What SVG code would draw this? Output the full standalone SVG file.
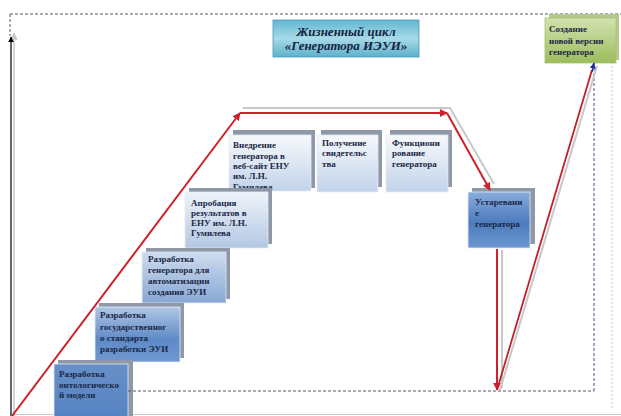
<svg xmlns="http://www.w3.org/2000/svg" width="621" height="416" viewBox="0 0 621 416">
<defs>
<linearGradient id="g1" x1="0" y1="0" x2="0" y2="1"><stop offset="0" stop-color="#6890c8"/><stop offset="1" stop-color="#5482c2"/></linearGradient>
<linearGradient id="g2" x1="0" y1="0" x2="0" y2="1"><stop offset="0" stop-color="#b0c6e4"/><stop offset="0.6" stop-color="#5e8ac7"/><stop offset="1" stop-color="#7199d0"/></linearGradient>
<linearGradient id="g3" x1="0" y1="0" x2="0" y2="1"><stop offset="0" stop-color="#cfdcee"/><stop offset="1" stop-color="#87a7d4"/></linearGradient>
<linearGradient id="g4" x1="0" y1="0" x2="0" y2="1"><stop offset="0" stop-color="#eef3f9"/><stop offset="1" stop-color="#b3c7e3"/></linearGradient>
<linearGradient id="g5" x1="0" y1="0" x2="0" y2="1"><stop offset="0" stop-color="#f7f9fc"/><stop offset="1" stop-color="#c2d3ea"/></linearGradient>
<linearGradient id="g8" x1="0" y1="0" x2="0" y2="1"><stop offset="0" stop-color="#88acdc"/><stop offset="0.55" stop-color="#4c7bbe"/><stop offset="1" stop-color="#6d97d0"/></linearGradient>
<linearGradient id="gt" x1="0" y1="0" x2="0" y2="1"><stop offset="0" stop-color="#62b6cf"/><stop offset="0.5" stop-color="#a6dae8"/><stop offset="1" stop-color="#5eb0ca"/></linearGradient>
<linearGradient id="gg" x1="0" y1="0" x2="0" y2="1"><stop offset="0" stop-color="#d3e2b0"/><stop offset="1" stop-color="#9cbc5c"/></linearGradient>
<marker id="ar" viewBox="0 0 10 10" refX="9" refY="5" markerWidth="4" markerHeight="4" orient="auto"><path d="M0,0 L10,5 L0,10 z" fill="#d0202a"/></marker>
<marker id="ab" viewBox="0 0 10 10" refX="9" refY="5" markerWidth="4" markerHeight="4" orient="auto"><path d="M0,0 L10,5 L0,10 z" fill="#2a2aa0"/></marker>
<marker id="ak" viewBox="0 0 10 10" refX="9" refY="5" markerWidth="5" markerHeight="5" orient="auto"><path d="M0,0 L10,5 L0,10 z" fill="#000"/></marker>
<marker id="ag" viewBox="0 0 10 10" refX="9" refY="5" markerWidth="5" markerHeight="5" orient="auto"><path d="M0,0 L10,5 L0,10 z" fill="#c8c8c8"/></marker>
</defs>
<style>
.t{font-family:"Liberation Serif","Times New Roman",serif;font-weight:bold;font-size:9px;fill:#1b2846}
.tt{font-family:"Liberation Serif","Times New Roman",serif;font-weight:bold;font-style:italic;font-size:13px;fill:#17233f;text-anchor:middle}
.sh{fill:#8e98a7}
.bx{stroke:#e4ebf5;stroke-width:0.8}
.red{stroke:#d0202a;stroke-width:2;fill:none}
.gray{stroke:#c8c8c8;stroke-width:2;fill:none}
.dash{stroke:#55586a;stroke-width:1;stroke-dasharray:3 2;fill:none}
</style>
<rect width="621" height="416" fill="#ffffff"/>
<g id="frame">
<line class="dash" x1="10" y1="14" x2="621" y2="14"/>
<line class="dash" x1="10" y1="14" x2="10" y2="36"/>
<line x1="14" y1="416" x2="14" y2="33" stroke="#c8c8c8" stroke-width="1.5" marker-end="url(#ag)"/>
<line x1="11" y1="416" x2="11" y2="37" stroke="#000" stroke-width="1.2" marker-end="url(#ak)"/>
<line x1="612" y1="22" x2="612" y2="410" stroke="#c4c6d4" stroke-width="1" stroke-dasharray="2 2"/>
<line x1="12" y1="414.5" x2="621" y2="414.5" stroke="#c8c8c8" stroke-width="1"/>
</g>
<g id="title">
<rect x="273" y="20" width="146" height="37" fill="url(#gt)" stroke="#4a9ab5" stroke-width="0.8"/>
<text class="tt" x="346" y="36">Жизненный цикл</text>
<text class="tt" x="346" y="50">«Генератора ИЭУИ»</text>
</g>
<g id="n5">
<rect class="sh" x="233" y="130" width="82" height="58"/>
<rect class="bx" x="229" y="135" width="82" height="56" fill="url(#g5)"/>
<text class="t"><tspan x="233" y="148">Внедрение</tspan><tspan x="233" y="159">генератора в</tspan><tspan x="233" y="169">веб-сайт  ЕНУ</tspan><tspan x="233" y="179">им. Л.Н.</tspan><tspan x="233" y="190">Гумилева</tspan></text>
</g>
<g id="n6">
<rect class="sh" x="321" y="130" width="61" height="57"/>
<rect class="bx" x="317" y="135" width="61" height="57" fill="url(#g5)"/>
<text class="t"><tspan x="322" y="146">Получение</tspan><tspan x="322" y="156">свидетельс</tspan><tspan x="322" y="167">тва</tspan></text>
</g>
<g id="n7">
<rect class="sh" x="390" y="130" width="62" height="57"/>
<rect class="bx" x="386" y="135" width="62" height="57" fill="url(#g5)"/>
<text class="t"><tspan x="392" y="146">Функциони</tspan><tspan x="392" y="156">рование</tspan><tspan x="392" y="167">генератора</tspan></text>
</g>
<g id="n4">
<rect class="sh" x="189" y="188" width="83" height="56"/>
<rect class="bx" x="185" y="192" width="83" height="56" fill="url(#g4)"/>
<text class="t"><tspan x="191" y="206">Апробация</tspan><tspan x="191" y="216">результатов в</tspan><tspan x="191" y="226">ЕНУ им. Л.Н.</tspan><tspan x="191" y="236">Гумилева</tspan></text>
</g>
<g id="n3">
<rect class="sh" x="146" y="248" width="84" height="51"/>
<rect class="bx" x="142" y="252" width="84" height="51" fill="url(#g3)"/>
<text class="t"><tspan x="148" y="262">Разработка</tspan><tspan x="148" y="273">генератора для</tspan><tspan x="148" y="284">автоматизации</tspan><tspan x="148" y="295">создания ЭУИ</tspan></text>
</g>
<g id="n2">
<rect class="sh" x="99" y="303" width="85" height="55"/>
<rect class="bx" x="95" y="307" width="85" height="55" fill="url(#g2)"/>
<text class="t"><tspan x="100" y="318">Разработка</tspan><tspan x="100" y="330">государственног</tspan><tspan x="100" y="341">о стандарта</tspan><tspan x="100" y="352">разработки ЭУИ</tspan></text>
</g>
<g id="n1">
<rect class="sh" x="58" y="360" width="75" height="60"/>
<rect class="bx" x="54" y="364" width="74" height="56" fill="url(#g1)"/>
<text class="t"><tspan x="59" y="377">Разработка</tspan><tspan x="59" y="388">онтологическо</tspan><tspan x="59" y="398">й модели</tspan></text>
</g>
<g id="n8">
<rect class="sh" x="472" y="188" width="63" height="56"/>
<rect class="bx" x="468" y="192" width="62" height="56" fill="url(#g8)"/>
<text class="t"><tspan x="475" y="205">Устаревани</tspan><tspan x="475" y="216">е</tspan><tspan x="475" y="227">генератора</tspan></text>
</g>
<g id="n9">
<rect x="549" y="14" width="70" height="46" fill="#b4c98a"/>
<rect x="545" y="18" width="71" height="45" fill="url(#gg)" stroke="#a9c26e" stroke-width="0.8"/>
<text class="t"><tspan x="549" y="32">Создание</tspan><tspan x="549" y="44">новой версии</tspan><tspan x="549" y="55">генератора</tspan></text>
</g>
<g id="connectors">
<line class="dash" x1="128" y1="391" x2="594" y2="391"/>
<line x1="594" y1="68" x2="594" y2="391" stroke="#4d4d8e" stroke-width="1" stroke-dasharray="3 2"/>
<polyline class="gray" points="243,108 450,108 494,184"/>
<line class="gray" x1="502" y1="250" x2="502" y2="388"/>
<line class="gray" x1="500" y1="390" x2="597" y2="66"/>
<line class="red" x1="12" y1="416" x2="240" y2="113" marker-end="url(#ar)"/>
<line class="red" x1="240" y1="113" x2="447" y2="113" marker-end="url(#ar)"/>
<line class="red" x1="447" y1="113" x2="490" y2="190" marker-end="url(#ar)"/>
<line class="red" x1="497" y1="249" x2="497" y2="390" marker-end="url(#ar)"/>
<line x1="497" y1="390" x2="592" y2="70" stroke="#c0202a" stroke-width="1.8"/>
<line x1="592" y1="72" x2="594" y2="63" stroke="#2a2aa0" stroke-width="1.5" marker-end="url(#ab)"/>
</g>
</svg>
